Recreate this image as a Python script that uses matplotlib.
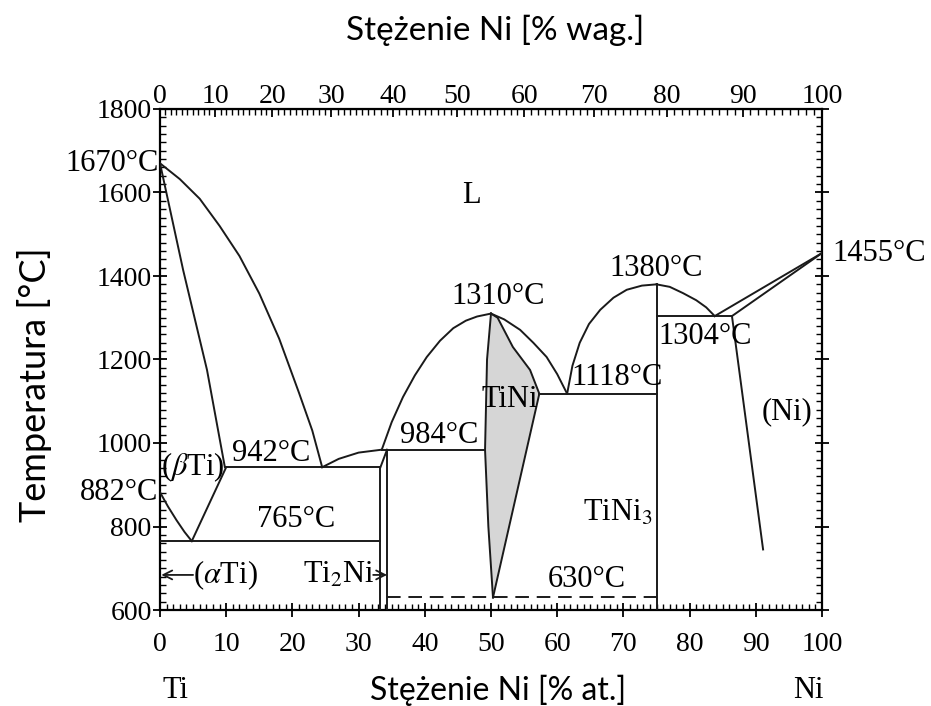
import matplotlib.pyplot as plt
from matplotlib.ticker import MultipleLocator, FixedLocator
import numpy as np

plt.rcParams['mathtext.fontset'] = 'stix'

# atomic masses, used to convert at.% Ni <-> wt.% Ni for the top axis
M_NI = 58.69
M_TI = 47.87

# --- phase boundaries, x in at.% Ni, T in deg C ---
# Ti-side liquidus
liq_ti_x = [0, 3, 6, 9, 12, 15, 18, 21, 23, 24.5]
liq_ti_t = [1670, 1632, 1585, 1520, 1448, 1358, 1250, 1120, 1030, 942]
# (beta Ti) solidus
sol_bti_x = [0, 3.5, 7.1, 9.8]
sol_bti_t = [1670, 1414, 1175, 942]
# beta transus and eutectoid
btr_x = [0, 1.2, 2.5, 3.7, 4.8]
btr_t = [882, 848, 815, 787, 765]
beut_x = [4.8, 10.0]
beut_t = [765, 942]
# liquidus between the 942 eutectic and the 984 peritectic
liq_e1_x = [24.5, 27, 30, 33.5]
liq_e1_t = [942, 962, 977, 984]
# TiNi dome
liq_tini_l_x = [33.5, 35, 36.7, 38.5, 40.3, 42.3, 44.3, 46.2, 47.9, 50]
liq_tini_l_t = [984, 1050, 1110, 1162, 1206, 1245, 1275, 1293, 1303, 1310]
liq_tini_r_x = [50, 52, 54.4, 56.4, 58.4, 60, 61.5]
liq_tini_r_t = [1310, 1296, 1271, 1240, 1206, 1165, 1118]
# TiNi single phase field
tini_l_x = [50, 49.4, 49.1, 49.6, 50.3]
tini_l_t = [1310, 1200, 984, 800, 630]
tini_r_x = [50.3, 57.3, 55.9, 53.3, 51, 50]
tini_r_t = [630, 1118, 1175, 1230, 1300, 1310]
# TiNi3 dome
liq_tini3_l_x = [61.5, 62.3, 63.4, 64.8, 66.5, 68.5, 70.5, 72.8, 75]
liq_tini3_l_t = [1118, 1185, 1240, 1285, 1319, 1348, 1367, 1377, 1380]
liq_tini3_r_x = [75, 77, 79, 81, 82.5, 83.8]
liq_tini3_r_t = [1380, 1374, 1359, 1342, 1325, 1304]
# Ni side
liq_ni_x = [83.8, 100]
liq_ni_t = [1304, 1455]
sol_ni_x = [86.4, 100]
sol_ni_t = [1304, 1455]
solvus_ni_x = [86.4, 91.1]
solvus_ni_t = [1304, 745]

# invariant lines: (x_start, x_end, T)
iso_765 = (0, 33.3, 765)
iso_942 = (9.8, 33.3, 942)
iso_984 = (33.5, 49.1, 984)
iso_1118 = (57.3, 75, 1118)
iso_1304 = (75, 86.4, 1304)
iso_630 = (34.3, 75, 630)

# compounds
ti2ni_left_x = 33.3
ti2ni_right_x = 34.3
tini3_x = 75

# top axis ticks, wt.% Ni
wt_major = list(range(0, 101, 10))
wt_minor = list(range(0, 101, 1))

# labels inside the diagram: (x, T, text)
labels = [
    (47.1, 1594, 'L'),
    (51.1, 1350, '1310°C'),
    (75.0, 1419, '1380°C'),
    (69.0, 1158, '1118°C'),
    (42.1, 1019, '984°C'),
    (16.8, 976, '942°C'),
    (5.0, 943, r'($\beta$Ti)'),
    (20.5, 816, '765°C'),
    (52.9, 1103, 'TiNi'),
    (69.2, 832, r'TiNi$_3$'),
    (64.5, 672, '630°C'),
    (94.7, 1074, '(Ni)'),
]


def at_to_wt(a):
    a = np.asarray(a, dtype=float)
    return 100 * a * M_NI / (a * M_NI + (100 - a) * M_TI)


def wt_to_at(w):
    w = np.asarray(w, dtype=float)
    return 100 * (w / M_NI) / (w / M_NI + (100 - w) / M_TI)


fig = plt.figure(figsize=(9.31, 7.06), dpi=100)
ax = fig.add_axes([160 / 931, 1 - 610 / 706, 662 / 931, 501 / 706])

serif = ['Liberation Serif', 'DejaVu Serif']
sans = ['Lato', 'DejaVu Sans']
lc = '#1a1a1a'
lw = 1.4
fs = 22

ax.fill(tini_l_x + tini_r_x, tini_l_t + tini_r_t, color='#d6d6d6', lw=0, zorder=1)

curves = [
    (liq_ti_x, liq_ti_t), (sol_bti_x, sol_bti_t), (btr_x, btr_t),
    (beut_x, beut_t), (liq_e1_x, liq_e1_t),
    (liq_tini_l_x, liq_tini_l_t), (liq_tini_r_x, liq_tini_r_t),
    (tini_l_x, tini_l_t), (tini_r_x, tini_r_t),
    (liq_tini3_l_x, liq_tini3_l_t), (liq_tini3_r_x, liq_tini3_r_t),
    (liq_ni_x, liq_ni_t), (sol_ni_x, sol_ni_t), (solvus_ni_x, solvus_ni_t),
]
for xs, ts in curves:
    ax.plot(xs, ts, color=lc, lw=lw, zorder=3)

for x0, x1, t in [iso_765, iso_942, iso_984, iso_1118, iso_1304]:
    ax.plot([x0, x1], [t, t], color=lc, lw=lw, zorder=3)
x0, x1, t = iso_630
ax.plot([x0, x1], [t, t], color=lc, lw=lw, ls=(0, (7, 4)), zorder=3)

# Ti2Ni double line and TiNi3 line
ax.plot([ti2ni_left_x, ti2ni_left_x], [600, iso_942[2]], color=lc, lw=lw, zorder=3)
ax.plot([ti2ni_right_x, ti2ni_right_x], [600, iso_984[2]], color=lc, lw=lw, zorder=3)
ax.plot([ti2ni_left_x, ti2ni_right_x], [iso_942[2], iso_984[2]], color=lc, lw=lw, zorder=3)
ax.plot([tini3_x, tini3_x], [600, 1380], color=lc, lw=lw, zorder=3)

for x, t, s in labels:
    ax.text(x, t, s, ha='center', va='center', fontsize=fs, family=serif, zorder=4)
ax.text(75.3, 1254, '1304°C', ha='left', va='center', fontsize=fs, family=serif, zorder=4)
ax.text(101.5, 1455, '1455°C', ha='left', va='center', fontsize=fs, family=serif, clip_on=False)
ax.text(-0.2, 1670, '1670°C', ha='right', va='center', fontsize=fs, family=serif, clip_on=False)
ax.text(-0.2, 882, '882°C', ha='right', va='center', fontsize=fs, family=serif, clip_on=False)

# phase markers at the bottom
ax.text(5.0, 684, r'($\alpha$Ti)', ha='left', va='center', fontsize=fs, family=serif)
ax.annotate('', xy=(0.2, 684), xytext=(5.0, 684),
            arrowprops=dict(arrowstyle='->', lw=1.3, color=lc, shrinkA=0, shrinkB=0,
                            mutation_scale=16))
ax.text(32.4, 684, r'Ti$_2$Ni', ha='right', va='center', fontsize=fs, family=serif)
ax.annotate('', xy=(ti2ni_right_x, 684), xytext=(32.2, 684),
            arrowprops=dict(arrowstyle='->', lw=1.3, color=lc, shrinkA=0, shrinkB=0,
                            mutation_scale=16))

ax.set_xlim(0, 100)
ax.set_ylim(600, 1800)
ax.xaxis.set_major_locator(MultipleLocator(10))
ax.xaxis.set_minor_locator(MultipleLocator(1))
ax.yaxis.set_major_locator(MultipleLocator(200))
ax.yaxis.set_minor_locator(MultipleLocator(20))
ax.tick_params(which='major', direction='inout', length=10, width=1.3,
               labelsize=20, top=False, right=True)
ax.tick_params(axis='x', which='major', pad=11)
ax.tick_params(axis='y', which='major', pad=1)
ax.tick_params(which='minor', direction='in', length=4, width=1.0, right=True)
for lab in ax.get_xticklabels() + ax.get_yticklabels():
    lab.set_family(serif)
for sp in ax.spines.values():
    sp.set_linewidth(1.6)

top = ax.secondary_xaxis('top', functions=(at_to_wt, wt_to_at))
top.xaxis.set_major_locator(FixedLocator(wt_major))
top.xaxis.set_minor_locator(FixedLocator(wt_minor))
top.tick_params(which='major', direction='in', length=6, width=1.3, labelsize=20, pad=0)
top.tick_params(which='minor', direction='in', length=4, width=1.0)
for lab in top.get_xticklabels():
    lab.set_family(serif)

ax.text(2.3, -0.16, 'Ti', transform=ax.get_xaxis_transform(), ha='center', va='center',
        fontsize=fs, family=serif)
ax.text(97.9, -0.16, 'Ni', transform=ax.get_xaxis_transform(), ha='center', va='center',
        fontsize=fs, family=serif)

fig.text(495 / 931, 1 - 30 / 706, 'Stężenie Ni [% wag.]', ha='center', va='center',
         fontsize=24, family=sans)
fig.text(498 / 931, 1 - 690 / 706, 'Stężenie Ni [% at.]', ha='center', va='center',
         fontsize=23, family=sans)
fig.text(35 / 931, 1 - 385 / 706, 'Temperatura [°C]', ha='center', va='center',
         rotation=90, fontsize=26, family=sans)

fig.savefig('out.png', dpi=100)
